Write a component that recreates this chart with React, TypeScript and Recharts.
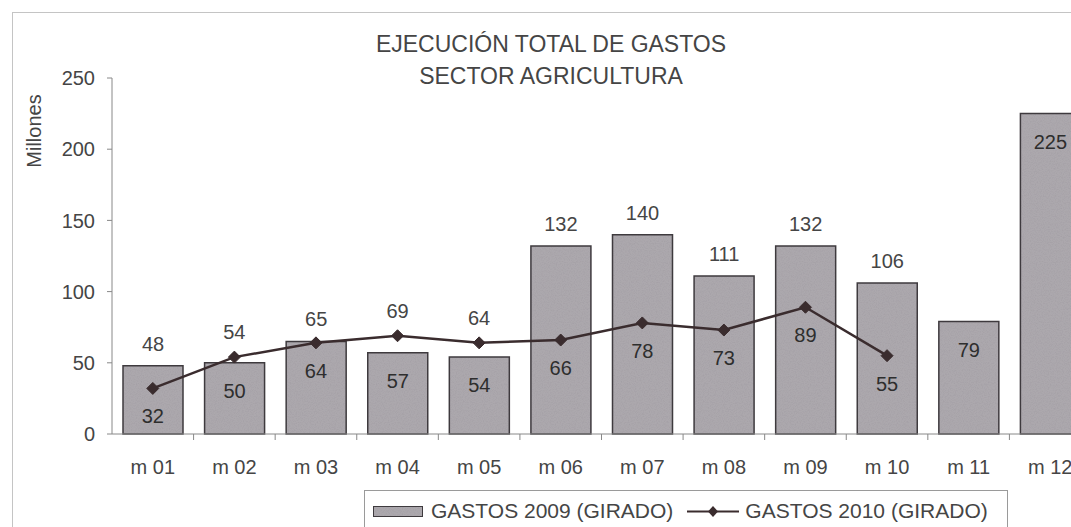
import React from 'react';
import { ComposedChart, Bar, Line, XAxis, YAxis, LabelList, Legend } from 'recharts';

const categories = ['m 01', 'm 02', 'm 03', 'm 04', 'm 05', 'm 06', 'm 07', 'm 08', 'm 09', 'm 10', 'm 11', 'm 12'];
const gastos2009 = [48, 50, 65, 57, 54, 132, 140, 111, 132, 106, 79, 225];
const gastos2010: (number | null)[] = [32, 54, 64, 69, 64, 66, 78, 73, 89, 55, null, null];
const yTicks = [0, 50, 100, 150, 200, 250];
const titleLines = ['EJECUCIÓN TOTAL DE GASTOS', 'SECTOR AGRICULTURA'];
const yAxisLabel = 'Millones';
const seriesNames = ['GASTOS 2009 (GIRADO)', 'GASTOS 2010 (GIRADO)'];

const data = categories.map((mes, i) => ({ mes, g2009: gastos2009[i], g2010: gastos2010[i] }));

const FONT = '"Liberation Sans", Arial, sans-serif';
const TEXT = '#454545';
const BAR_BASE = '#aca8ad';
const BAR_FILL = 'url(#grainFill)';
const BAR_STROKE = '#3e3a3e';
const LINE = '#3a2c2e';
const FS = 20;

const BarLabel = (props: any) => {
  const { x, y, width, value, index } = props;
  const other = gastos2010[index];
  const above = other != null && value >= other;
  const cy = above ? y - 22 : y + 28;
  return (
    <text x={x + width / 2} y={cy + 7} textAnchor="middle" fontSize={FS} fontFamily={FONT} fill={above ? TEXT : '#2e2e2e'}>
      {value}
    </text>
  );
};

const LineLabel = (props: any) => {
  const { x, y, value, index } = props;
  if (value == null) return null;
  const other = gastos2009[index];
  const above = value > other;
  const cy = above ? y - 25 : y + 28;
  return (
    <text x={x} y={cy + 7} textAnchor="middle" fontSize={FS} fontFamily={FONT} fill={above ? TEXT : '#2e2e2e'}>
      {value}
    </text>
  );
};

const Diamond = (props: any) => {
  const { cx, cy, value } = props;
  if (value == null || cx == null || cy == null) return null;
  const r = 6;
  return (
    <polygon
      points={`${cx},${cy - r} ${cx + r},${cy} ${cx},${cy + r} ${cx - r},${cy}`}
      fill={LINE}
      stroke={LINE}
      strokeWidth={1}
    />
  );
};

const XTick = (props: any) => {
  const { x, y, payload } = props;
  const off = payload && typeof payload.offset === 'number' && payload.offset > 0 ? payload.offset : 40.8;
  return (
    <g>
      <line x1={x + off} x2={x + off} y1={y} y2={y + 6} stroke="#888" strokeWidth={1} />
      <text x={x} y={y + 40} textAnchor="middle" fontSize={FS} fontFamily={FONT} fill={TEXT}>
        {payload.value}
      </text>
    </g>
  );
};

const LegendContent = () => (
  <div
    style={{
      width: 644,
      height: 50,
      border: '1px solid #9a9a9a',
      boxSizing: 'border-box',
      background: '#fff',
      display: 'flex',
      alignItems: 'flex-start',
      paddingTop: 8,
      paddingLeft: 8,
      fontFamily: FONT,
      fontSize: 21,
      color: TEXT,
      whiteSpace: 'nowrap',
    }}
  >
    <svg width={50} height={24} style={{ marginRight: 8 }}>
      <rect x={0.5} y={7.5} width={49} height={10} fill={BAR_FILL} stroke={BAR_STROKE} strokeWidth={1} />
    </svg>
    <span style={{ lineHeight: '24px' }}>{seriesNames[0]}</span>
    <svg width={52} height={24} style={{ marginLeft: 14, marginRight: 6 }}>
      <line x1={0} x2={52} y1={12.5} y2={12.5} stroke={LINE} strokeWidth={2} />
      <polygon points="26,7 31,12.5 26,18 21,12.5" fill={LINE} />
    </svg>
    <span style={{ lineHeight: '24px' }}>{seriesNames[1]}</span>
  </div>
);

export default function App() {
  return (
    <div style={{ position: 'absolute', left: 0, top: 0, width: 1071, height: 527, overflow: 'hidden', background: '#fff' }}>
      <svg width={1071} height={527} style={{ position: 'absolute', left: 0, top: 0 }}>
        <defs>
          <filter id="grainNoise" x="0" y="0" width="100%" height="100%">
            <feTurbulence type="fractalNoise" baseFrequency="0.85" numOctaves="2" seed="7" result="t" />
            <feColorMatrix
              in="t"
              type="matrix"
              values="0 0 0 0 0.36  0 0 0 0 0.34  0 0 0 0 0.37  1.6 0 0 0 -0.62"
              result="n"
            />
            <feComposite in="n" in2="SourceGraphic" operator="over" />
          </filter>
          <pattern id="grainFill" patternUnits="userSpaceOnUse" width="240" height="240">
            <rect width="240" height="240" fill={BAR_BASE} filter="url(#grainNoise)" />
          </pattern>
        </defs>
        <rect x={12.5} y={12.5} width={1100} height={600} fill="none" stroke="#c4c4c4" strokeWidth={1} />
        <text x={551} y={52} textAnchor="middle" fontSize={23} fontFamily={FONT} fill={TEXT}>
          {titleLines[0]}
        </text>
        <text x={551} y={84} textAnchor="middle" fontSize={23} fontFamily={FONT} fill={TEXT}>
          {titleLines[1]}
        </text>
        <text
          x={0}
          y={0}
          transform="translate(41,131) rotate(-90)"
          textAnchor="middle"
          fontSize={20}
          fontFamily={FONT}
          fill={TEXT}
        >
          {yAxisLabel}
        </text>
      </svg>
      <div style={{ position: 'absolute', left: 0, top: 0 }}>
        <ComposedChart
          width={1110}
          height={560}
          data={data}
          margin={{ top: 78, right: 19, bottom: 86, left: 0 }}
          barSize={60}
        >
          <XAxis
            dataKey="mes"
            axisLine={{ stroke: '#888' }}
            tickLine={false}
            tickSize={0}
            tickMargin={0}
            height={40}
            interval={0}
            tick={<XTick />}
          />
          <YAxis
            width={112}
            domain={[0, 250]}
            ticks={yTicks}
            axisLine={{ stroke: '#888' }}
            tickLine={{ stroke: '#888' }}
            tickSize={5}
            tickMargin={12}
            tick={{ fontSize: FS, fontFamily: FONT, fill: TEXT }}
          />
          <Legend
            verticalAlign="middle"
            align="center"
            layout="horizontal"
            content={<LegendContent />}
            wrapperStyle={{ position: 'absolute', left: 364, top: 490, width: 644 }}
          />
          <Bar dataKey="g2009" name={seriesNames[0]} fill={BAR_FILL} stroke={BAR_STROKE} strokeWidth={1.5} isAnimationActive={false}>
            <LabelList dataKey="g2009" content={<BarLabel />} />
          </Bar>
          <Line
            dataKey="g2010"
            name={seriesNames[1]}
            stroke={LINE}
            strokeWidth={2.5}
            dot={<Diamond />}
            activeDot={false}
            connectNulls={false}
            isAnimationActive={false}
          >
            <LabelList dataKey="g2010" content={<LineLabel />} />
          </Line>
        </ComposedChart>
      </div>
    </div>
  );
}
